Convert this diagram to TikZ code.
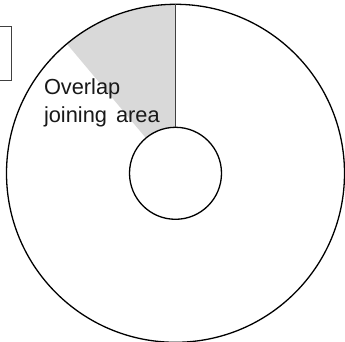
\documentclass[tikz,border=0pt]{standalone}
\usepackage{fontspec}
\setmainfont{Liberation Sans}
\definecolor{sectorgray}{HTML}{D9D9D9}
\definecolor{edgegray}{HTML}{404040}
\tikzset{
  ring/.style={circle, draw=black, line width=1.3pt, inner sep=0pt},
  labeltext/.style={inner sep=0pt, anchor=base west, font=\fontsize{21.8}{28}\selectfont, text=black!90},
}
\begin{document}
\begin{tikzpicture}[x=1pt,y=1pt]
\useasboundingbox (0,0) rectangle (345,342);
\clip (0,0) rectangle (345,342);
\fill[white] (0,0) rectangle (345,342);
\coordinate (c) at (175.5,168.7);
% grey overlap sector
\fill[sectorgray] ([shift={(90:169)}]c) arc[start angle=90,end angle=130,radius=169]
  -- ([shift={(130:46)}]c) arc[start angle=130,end angle=90,radius=46] -- cycle;
% outer and inner circles
\node[ring, minimum size=338pt] (outer) at (c) {};
\node[ring, minimum size=92pt] (inner) at (c) {};
% radial line
\draw[edgegray, line width=1pt] (inner.north) -- (outer.north);
% partial box at the left edge
\node[draw=edgegray, line width=1.2pt, minimum width=40pt, minimum height=54.3pt, inner sep=0pt, anchor=north east] (box) at (12.3,316.3) {};
% label
\node[labeltext] (label1) at (43.8,247.7) {Overlap};
\node[labeltext] (label2) at (43.8,219.7) {joining\hspace{3pt} area};
\end{tikzpicture}
\end{document}
